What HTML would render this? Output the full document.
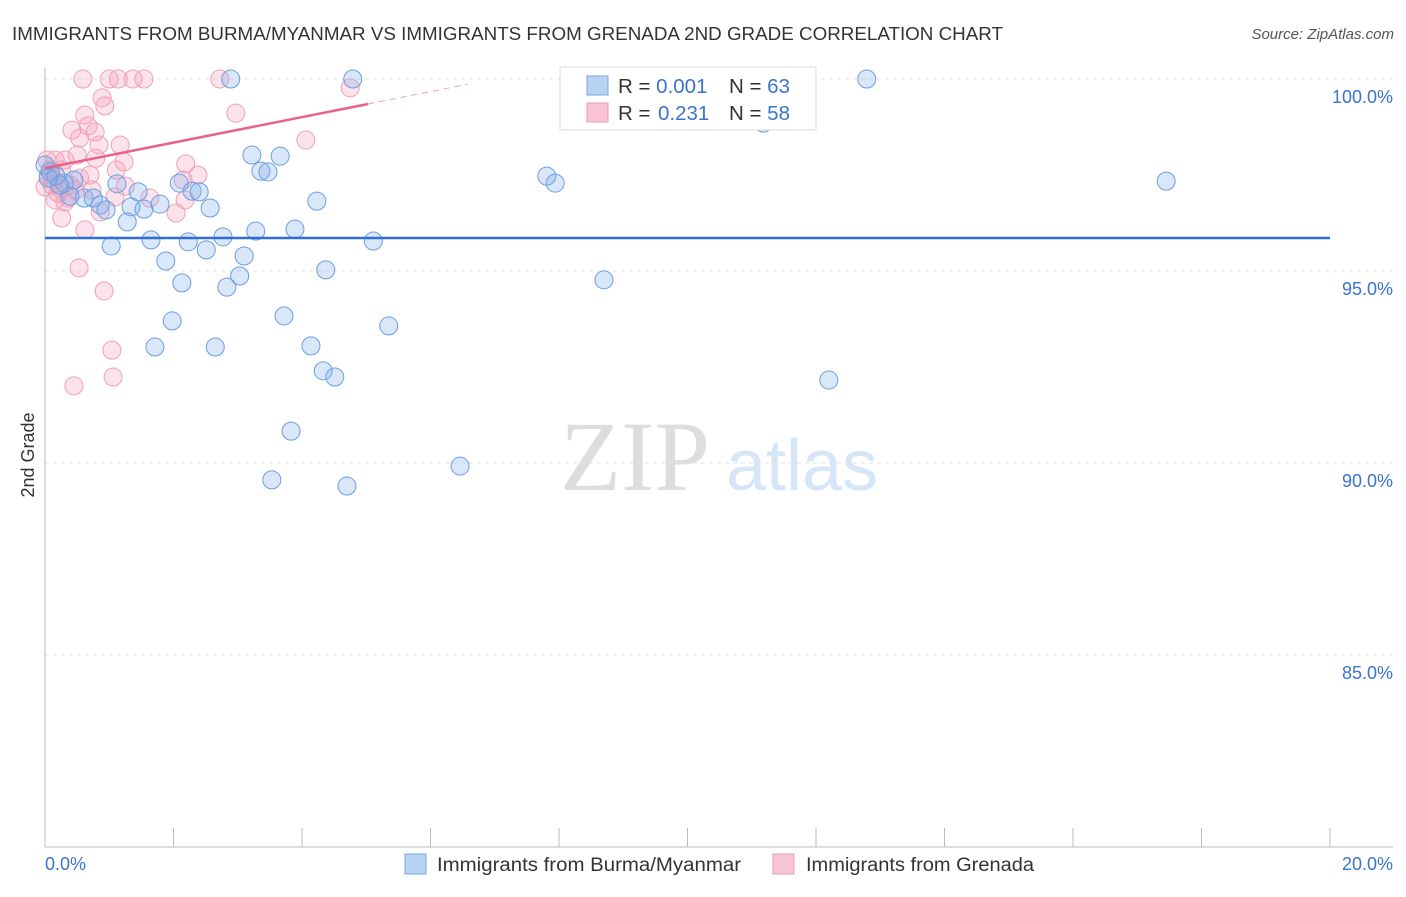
<!DOCTYPE html>
<html><head><meta charset="utf-8"><style>
body{margin:0;background:#fff;font-family:"Liberation Sans",sans-serif;}
</style></head><body>
<svg id="chart" width="1406" height="892" xmlns="http://www.w3.org/2000/svg" font-family="Liberation Sans, sans-serif">
<text x="12" y="40" font-size="18.5" fill="#333" textLength="991" lengthAdjust="spacingAndGlyphs">IMMIGRANTS FROM BURMA/MYANMAR VS IMMIGRANTS FROM GRENADA 2ND GRADE CORRELATION CHART</text>
<text x="1394" y="39" font-size="15" fill="#555" font-style="italic" text-anchor="end">Source: ZipAtlas.com</text>
<g>
<text x="635" y="490" font-size="100" fill="#ddd" text-anchor="middle" font-family="Liberation Serif, serif">ZIP</text>
<text x="802" y="490" font-size="72" fill="#d6e5f7" text-anchor="middle">atlas</text>
</g>
<g id="grid"></g><g id="axes"></g><g id="marks"></g>
<text transform="translate(34,455) rotate(-90)" font-size="18" fill="#333" text-anchor="middle">2nd Grade</text>
<g>
<rect x="560" y="67" width="256" height="63" fill="#fff" stroke="#ddd"/>
<rect x="587" y="76" width="21" height="19" fill="#b9d3f3" stroke="#7aa6e0"/>
<rect x="587" y="103" width="21" height="19" fill="#f9c4d3" stroke="#ee9ab3"/>
<text x="618" y="93" font-size="20.5" fill="#333">R = <tspan fill="#3b73d0">0.001</tspan><tspan x="729">N = </tspan><tspan fill="#3b73d0">63</tspan></text>
<text x="618" y="120" font-size="20.5" fill="#333">R = <tspan x="658" fill="#3b73d0">0.231</tspan><tspan x="729">N = </tspan><tspan fill="#3b73d0">58</tspan></text>
</g>
<g>
<rect x="405" y="854" width="21" height="20" fill="#b9d3f3" stroke="#7aa6e0"/>
<text x="437" y="871" font-size="19" fill="#333" textLength="304" lengthAdjust="spacingAndGlyphs">Immigrants from Burma/Myanmar</text>
<rect x="773" y="854" width="21" height="20" fill="#f9c4d3" stroke="#ee9ab3"/>
<text x="806" y="871" font-size="19" fill="#333" textLength="228" lengthAdjust="spacingAndGlyphs">Immigrants from Grenada</text>
</g>
</svg>
<script>
const blueX=[2.89,4.79,9.95,12.79,11.18,3.22,3.66,3.36,3.47,7.81,7.94,17.45,1.12,1.45,2.09,2.29,2.40,0.45,0.30,0.08,0.17,0.39,0.61,0.75,0.86,0.95,1.34,1.54,1.79,2.57,4.23,1.28,1.65,2.23,1.03,2.77,3.28,3.89,5.11,2.51,3.10,1.88,4.37,3.03,2.13,2.83,8.70,3.72,1.98,5.35,1.71,2.65,4.14,4.33,4.51,12.20,3.83,6.46,3.53,4.70,0.23,0.00,0.05];
const blueY=[100,100,100,100,98.85,98.02,97.99,97.60,97.58,97.47,97.29,97.34,97.27,97.06,97.29,97.08,97.06,97.37,97.29,97.58,97.47,96.95,96.90,96.90,96.72,96.59,96.67,96.61,96.74,96.64,96.82,96.28,95.81,95.76,95.65,95.89,96.04,96.09,95.78,95.55,95.39,95.26,95.03,94.87,94.69,94.58,94.77,93.83,93.70,93.57,93.02,93.02,93.05,92.40,92.24,92.16,90.83,89.92,89.56,89.40,97.24,97.76,97.42];
const pinkX=[0.59,1.00,1.14,1.37,1.54,2.72,4.75,2.97,4.06,0.89,0.93,0.62,0.67,0.42,0.78,0.54,0.84,1.17,0.50,0.79,1.23,0.16,2.19,2.38,1.11,0.70,0.03,0.05,0.11,0.20,0.36,0.16,0.31,0.23,1.25,2.18,2.04,0.86,0.26,0.62,0.53,0.92,1.04,1.06,0.45,0.14,0.26,0.39,0.00,0.54,0.73,2.15,1.09,1.63,0.31,0.47,0.08];
const pinkY=[100,100,100,100,100,100,99.77,99.11,98.41,99.51,99.30,99.06,98.78,98.67,98.62,98.46,98.28,98.28,98.02,97.94,97.84,97.89,97.79,97.50,97.63,97.50,97.89,97.50,97.24,97.03,96.90,96.85,96.80,97.16,97.21,96.85,96.51,96.54,96.38,96.07,95.08,94.48,92.94,92.24,92.01,97.37,97.63,97.24,97.19,97.42,97.11,97.37,96.93,96.90,97.89,97.11,97.63];
const blueTrend=[95.86,0];      // intercept, slope
const pinkTrend=[97.68,0.332];
const pinkSolidEnd=5.03, pinkDashEnd=6.58;
const yTicks=[100,95,90,85];
const yTickLabels=["100.0%","95.0%","90.0%","85.0%"];

const X0=45,X1=1330,Y100=79,Y80=847;
const sx=v=>X0+(v/20)*(X1-X0);
const sy=v=>Y100+(100-v)/20*(Y80-Y100);
const NS="http://www.w3.org/2000/svg";
function mk(tag,parent,attrs){const e=document.createElementNS(NS,tag);for(const k in attrs)e.setAttribute(k,attrs[k]);parent.appendChild(e);return e;}
const grid=document.getElementById('grid'),axes=document.getElementById('axes'),marks=document.getElementById('marks');
yTicks.forEach((t,i)=>{
  const l=mk('line',grid,{x1:X0,x2:1393,y1:sy(t),y2:sy(t),stroke:'#e2e2e2','stroke-dasharray':'4,4'});
  
  
  const tx=mk('text',grid,{x:1393,y:sy(t)+24,'font-size':18,fill:'#3b73d0','text-anchor':'end'});
  tx.textContent=yTickLabels[i];
  
  
});
const ya=mk('line',axes,{x1:X0,x2:X0,y1:68,y2:Y80,stroke:'#bbb'});


const xa=mk('line',axes,{x1:X0,x2:1393,y1:Y80,y2:Y80,stroke:'#bbb'});


for(let i=0;i<=10;i++){
  const t=mk('line',axes,{x1:sx(i*2),x2:sx(i*2),y1:828,y2:Y80,stroke:'#bbb'});
  
  
}
const xl=mk('text',axes,{x:45,y:870,'font-size':18,fill:'#3b73d0'});xl.textContent='0.0%';


const xr=mk('text',axes,{x:1393,y:870,'font-size':18,fill:'#3b73d0','text-anchor':'end'});xr.textContent='20.0%';



function pts(xs,ys,fill,stroke,name){
  xs.forEach((x,i)=>{
    const c=mk('circle',marks,{cx:sx(x),cy:sy(ys[i]),r:9,fill:fill,stroke:stroke,'stroke-width':1});
    
    
  });
}
pts(pinkX,pinkY,'rgba(244,160,185,0.3)','#f0a0b8','point-grenada');
pts(blueX,blueY,'rgba(130,175,235,0.3)','#6a9ee2','point-burma');
const bl=mk('line',marks,{x1:sx(0),x2:sx(20),y1:sy(blueTrend[0]),y2:sy(blueTrend[0]+blueTrend[1]*20),stroke:'#2f6fd3','stroke-width':2.5});


const pl=mk('line',marks,{x1:sx(0),x2:sx(pinkSolidEnd),y1:sy(pinkTrend[0]),y2:sy(pinkTrend[0]+pinkTrend[1]*pinkSolidEnd),stroke:'#e8628e','stroke-width':2.5});


const pd=mk('line',marks,{x1:sx(pinkSolidEnd),x2:sx(pinkDashEnd),y1:sy(pinkTrend[0]+pinkTrend[1]*pinkSolidEnd),y2:sy(pinkTrend[0]+pinkTrend[1]*pinkDashEnd),stroke:'#f0a0b8','stroke-width':1,'stroke-dasharray':'6,5'});


</script>
</body></html>
